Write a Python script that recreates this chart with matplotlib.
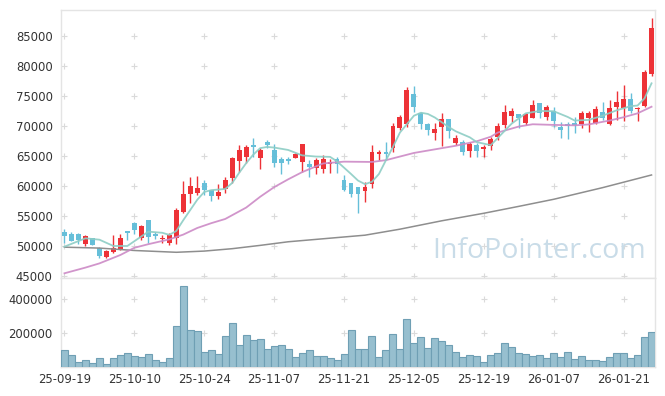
import numpy as np
import matplotlib
matplotlib.use("Agg")
import matplotlib.pyplot as plt

# daily candles, index 0 = 25-09-19
opens = [52330, 52000, 52000, 50330, 51280, 49610, 48170, 48950, 49330, 52500,
         53890, 51390, 54330, 51950, 51170, 50450, 51390, 55720, 58610, 58890,
         60450, 59330, 58350, 59520, 61280, 64220, 64890, 66780, 64720, 67280,
         66000, 64450, 64500, 64720, 64050, 63670, 62950, 62830, 63610, 64450,
         61000, 60550, 59890, 59170, 60330, 65280, 65720, 66280, 69610, 70330,
         75330, 72220, 70330, 68890, 69780, 71110, 67110, 67390, 65890, 66830,
         66170, 66720, 68220, 70170, 71720, 72000, 70450, 71390, 73780, 71450,
         72500, 69780, 70280, 70450, 70280, 71390, 70450, 72330, 70280, 73220,
         73050, 74450, 72780, 73390, 78610]
highs = [52780, 52280, 52110, 51830, 51390, 49890, 49330, 51830, 52000, 52550,
         54050, 53500, 54330, 52280, 51830, 52220, 56330, 60830, 61500, 61670,
         61000, 59400, 60250, 61550, 64890, 66830, 66830, 67950, 66390, 67670,
         67000, 64890, 64890, 65450, 67000, 64330, 64610, 65170, 64450, 64890,
         61830, 60550, 59890, 60720, 66830, 66000, 67390, 70450, 71830, 76450,
         76670, 72380, 70550, 70550, 72220, 71110, 68500, 67670, 67390, 67110,
         66830, 68220, 70450, 73500, 72950, 72000, 72110, 74330, 73780, 73500,
         73220, 70720, 70720, 71550, 72500, 72500, 73390, 73950, 74330, 75830,
         76830, 75450, 73220, 79330, 87950]
lows = [50450, 50780, 50280, 50000, 50110, 47950, 47950, 48780, 49330, 51000,
        51950, 51000, 50500, 51110, 50450, 50170, 50280, 55500, 57110, 58500,
        58500, 57420, 57800, 58890, 60550, 62380, 63780, 64890, 62780, 66280,
        63110, 62000, 63610, 64610, 62380, 61550, 62000, 62110, 62220, 62220,
        59200, 58110, 55450, 57390, 59610, 64330, 64330, 65720, 69330, 69890,
        72380, 69450, 68500, 67670, 66670, 67950, 66830, 65170, 64780, 64780,
        64890, 66000, 67670, 69610, 70720, 69720, 70170, 71390, 71280, 71000,
        69890, 67950, 67780, 68780, 69610, 69050, 70280, 71000, 70200, 71000,
        70830, 72110, 70830, 73220, 78330]
closes = [51670, 50890, 51000, 51670, 50220, 48330, 49220, 49610, 51390, 52220,
          52670, 53330, 51550, 51670, 51390, 51830, 56000, 58670, 60000, 59670,
          59330, 58390, 58980, 61000, 64610, 66000, 66440, 66560, 66000, 66890,
          63890, 63890, 64170, 65330, 67000, 63110, 64330, 64500, 63950, 63670,
          59330, 58670, 58670, 59780, 65670, 65720, 65330, 70000, 71450, 76000,
          73220, 70330, 69330, 69450, 71110, 69220, 67950, 65720, 67000, 65890,
          66560, 67780, 70000, 72280, 72500, 71390, 72000, 73500, 72220, 73220,
          70890, 69330, 70000, 70110, 72110, 72220, 72830, 71280, 72950, 73950,
          74450, 72550, 73050, 78950, 86280]
volumes = [100000, 70600, 31400, 43100, 23500, 52900, 17600, 52900, 70600, 82300,
           66700, 58800, 76500, 43100, 29400, 52900, 241200, 478000, 217600, 211800,
           90000, 100000, 76500, 182400, 258800, 129400, 188200, 158800, 164700, 105900,
           123500, 129400, 105900, 58800, 82300, 100000, 64700, 64700, 52900, 41200,
           76300, 217500, 105700, 105700, 182200, 58600, 99800, 193900, 105700, 282200,
           141000, 176300, 111600, 170400, 152800, 129200, 88100, 58600, 70400, 64500,
           29200, 70400, 82200, 141000, 117500, 82200, 76300, 64500, 70400, 52800,
           82200, 58600, 88100, 46900, 64500, 41000, 41000, 35100, 58600, 82200,
           82200, 52800, 70400, 176300, 205700]

# moving averages (index, value)
ma5_idx = [0, 3, 5, 7, 9, 12, 14, 15, 16, 17, 18, 19, 20, 21, 23, 24, 25, 26, 27, 28,
           29, 30, 32, 34, 36, 38, 39, 41, 42, 43, 44, 45, 46, 47, 48, 50, 51, 52, 53,
           55, 56, 58, 59, 61, 62, 64, 66, 68, 70, 72, 73, 75, 77, 79, 81, 82, 83, 84]
ma5_val = [49890, 51280, 51050, 50000, 50000, 52390, 52200, 51850, 52500, 54300,
           56000, 57700, 59000, 59300, 59500, 60500, 62200, 63800, 65200, 66300,
           66500, 66400, 66000, 65100, 64900, 64850, 64100, 62000, 60900, 60300,
           60700, 62000, 64300, 66500, 68900, 71700, 72200, 72000, 71400, 69800,
           69100, 68100, 67300, 66800, 68000, 70400, 72100, 72500, 72450, 71500,
           70900, 71000, 71700, 72600, 73300, 73400, 74600, 77100]
ma20_idx = [0, 3, 5, 8, 10, 12, 15, 17, 19, 21, 23, 26, 28, 30, 32, 34, 37, 40, 44,
            46, 48, 50, 53, 56, 59, 61, 62, 65, 67, 70, 73, 75, 78, 80, 82, 84]
ma20_val = [45450, 46400, 47100, 48500, 49700, 50300, 51100, 51900, 53000, 53800,
            54500, 56400, 58200, 59800, 61100, 62300, 63750, 64050, 64000, 64300,
            64900, 65500, 66100, 66700, 67450, 68200, 68900, 69900, 70280, 70170,
            70100, 70250, 70900, 71450, 72100, 73200]
ma60_idx = [0, 5, 10, 16, 20, 24, 28, 32, 38, 43, 48, 54, 60, 65, 70, 77, 84]
ma60_val = [49800, 49650, 49250, 48950, 49150, 49550, 50100, 50700, 51300, 51800,
            52800, 54200, 55450, 56600, 57780, 59720, 61830]

tick_labels = ['25-09-19', '25-10-10', '25-10-24', '25-11-07', '25-11-21',
               '25-12-05', '25-12-19', '26-01-07', '26-01-21']

RED = '#ed3237'
BLUE = '#66bfd9'
GRID = '#dadada'
FRAME = '#e4e4e4'

plt.rcParams['font.family'] = ['DejaVu Sans']

fig = plt.figure(figsize=(6.65, 3.96), dpi=100)
ax = fig.add_axes([0.0917, 0.298, 0.8933, 0.677])
axv = fig.add_axes([0.0917, 0.0732, 0.8933, 0.2248], sharex=ax)

x = np.arange(len(opens))
o = np.array(opens)
c = np.array(closes)
up = c >= o
colors = np.where(up, RED, BLUE)

ax.vlines(x, lows, highs, colors=colors, linewidth=1.0, zorder=3)
body_bottom = np.minimum(o, c)
body_h = np.maximum(np.abs(c - o), 120)
ax.bar(x, body_h, bottom=body_bottom, width=0.7, color=colors, linewidth=0, zorder=3)

ax.plot(ma60_idx, ma60_val, color='#8e8e8e', lw=1.1, zorder=4)
ax.plot(ma20_idx, ma20_val, color='#cc8ac6', lw=1.3, alpha=0.9, zorder=4)
ax.plot(ma5_idx, ma5_val, color='#8dcdc5', lw=1.3, alpha=0.9, zorder=4)

ax.text(0.805, 0.075, 'InfoPointer.com', transform=ax.transAxes, ha='center',
        va='baseline', fontsize=20.5, color='#c9dce8', family=['Open Sans', 'DejaVu Sans'],
        zorder=1)

axv.bar(x, volumes, width=1.0, color='#97bfcf', edgecolor='#6f9fb4', linewidth=0.8, zorder=3)

xt = np.arange(0, len(opens), 10)
ax.set_xlim(-0.5, len(opens) - 0.5)
ax.set_ylim(44667, 89333)
axv.set_ylim(0, 525000)

yt = np.arange(45000, 85001, 5000)
ax.set_yticks(yt)
ax.set_yticklabels([str(v) for v in yt])
vt = [200000, 400000]
axv.set_yticks(vt)
axv.set_yticklabels([str(v) for v in vt])
axv.set_xticks(xt)
axv.set_xticklabels(tick_labels)
plt.setp(ax.get_xticklabels(), visible=False)

# grid crosses
gx, gy = np.meshgrid(xt, yt)
ax.scatter(gx.ravel(), gy.ravel(), marker='+', s=22, color=GRID, linewidths=0.8, zorder=0)
gx, gy = np.meshgrid(xt, vt)
axv.scatter(gx.ravel(), gy.ravel(), marker='+', s=22, color=GRID, linewidths=0.8, zorder=0)

for a in (ax, axv):
    for s in a.spines.values():
        s.set_color(FRAME)
        s.set_linewidth(1.0)
    a.tick_params(length=0, labelsize=8.4, colors='#333333', pad=6)
axv.tick_params(axis='x', pad=4)

fig.savefig('out.png', dpi=100)
